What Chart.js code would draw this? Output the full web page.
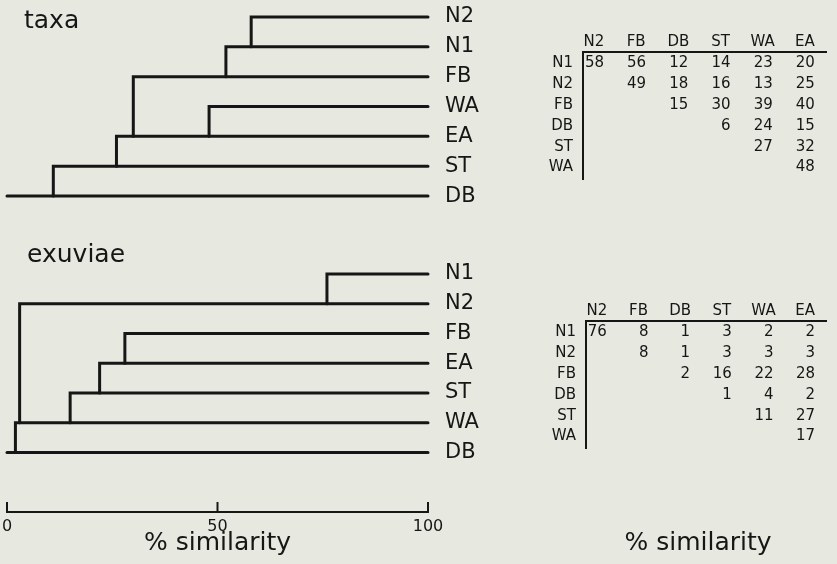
<!DOCTYPE html>
<html>
<head>
<meta charset="utf-8">
<script src="https://cdn.jsdelivr.net/npm/chart.js@4.4.0/dist/chart.umd.min.js"></script>
<style>
  body { margin: 0; width: 837px; height: 564px; background: #e7e8df; position: relative; overflow: hidden; }
  .caixa { position: absolute; }
</style>
</head>
<body>
<div class="caixa" style="left:0;top:-11px;width:488px;height:235px"><canvas id="dendroTaxa"></canvas></div>
<div class="caixa" style="left:0;top:240px;width:488px;height:324px"><canvas id="dendroExuv"></canvas></div>
<div class="caixa" style="left:520px;top:0;width:317px;height:189px"><canvas id="tabTaxa"></canvas></div>
<div class="caixa" style="left:520px;top:257px;width:317px;height:307px"><canvas id="tabExuv"></canvas></div>
<script>
// Dados - dendrograma taxa (folhas de cima para baixo)
var taxaFolhas = ["N2", "N1", "FB", "WA", "EA", "ST", "DB"];
var taxaUniao = [58, 52, 30, 48, 26, 11, 0]; // % similaridade onde o ramo se junta
var taxaDestino = ["N1", "FB", "EA", "EA", "ST", "DB", null];

// Dados - dendrograma exuviae
var exuvFolhas = ["N1", "N2", "FB", "EA", "ST", "WA", "DB"];
var exuvUniao = [76, 3, 28, 22, 15, 2, 0];
var exuvDestino = ["N2", "WA", "EA", "ST", "WA", "DB", null];

// Eixo de similaridade
var eixoTicks = [0, 50, 100];

// Matrizes de similaridade
var colunas = ["N2", "FB", "DB", "ST", "WA", "EA"];
var linhas = ["N1", "N2", "FB", "DB", "ST", "WA"];
var taxaMatriz = [
  [58, 56, 12, 14, 23, 20],
  [null, 49, 18, 16, 13, 25],
  [null, null, 15, 30, 39, 40],
  [null, null, null, 6, 24, 15],
  [null, null, null, null, 27, 32],
  [null, null, null, null, null, 48]
];
var exuvMatriz = [
  [76, 8, 1, 3, 2, 2],
  [null, 8, 1, 3, 3, 3],
  [null, null, 2, 16, 22, 28],
  [null, null, null, 1, 4, 2],
  [null, null, null, null, 11, 27],
  [null, null, null, null, null, 17]
];

var COR = "#161616";
var FONTE = "'DejaVu Sans', sans-serif";
Chart.defaults.font.family = FONTE;
Chart.defaults.color = COR;

// Texto solto (taxa, exuviae, % similarity)
var pluginTexto = {
  id: "texto",
  afterDraw: function (chart, args, opts) {
    if (!opts.texto) return;
    var c = chart.ctx;
    c.save();
    c.font = opts.tamanho + "px " + FONTE;
    c.fillStyle = COR;
    c.textAlign = opts.alinhar || "left";
    c.textBaseline = "middle";
    c.fillText(opts.texto, opts.x, opts.y);
    c.restore();
  }
};

// Marcas do eixo x viradas para cima
var pluginMarcas = {
  id: "marcas",
  afterDraw: function (chart) {
    var x = chart.scales.x;
    if (!x.options.display) return;
    var c = chart.ctx;
    c.save();
    c.strokeStyle = COR;
    c.lineWidth = 2;
    x.ticks.forEach(function (t) {
      var px = x.getPixelForValue(t.value);
      c.beginPath();
      c.moveTo(px, x.top + 1);
      c.lineTo(px, x.top - 10);
      c.stroke();
    });
    c.restore();
  }
};

// Valores das celulas da matriz
var pluginValores = {
  id: "valores",
  afterDatasetsDraw: function (chart) {
    var c = chart.ctx;
    var meta = chart.getDatasetMeta(0);
    var dados = chart.data.datasets[0].data;
    c.save();
    c.font = "15px " + FONTE;
    c.fillStyle = COR;
    c.textAlign = "right";
    c.textBaseline = "middle";
    for (var i = 0; i < meta.data.length; i++) {
      c.fillText(String(dados[i].v), meta.data[i].x + 10, meta.data[i].y);
    }
    c.restore();
  }
};

function montarRamos(folhas, uniao, destino) {
  var ramos = [];
  for (var i = 0; i < folhas.length; i++) {
    var pontos = [{ x: 100, y: i }, { x: uniao[i], y: i }];
    if (destino[i] !== null) {
      pontos.push({ x: uniao[i], y: folhas.indexOf(destino[i]) });
    }
    ramos.push({
      data: pontos,
      borderColor: COR,
      borderWidth: 3,
      pointRadius: 0,
      borderCapStyle: "round",
      borderJoinStyle: "miter",
      tension: 0,
      clip: false
    });
  }
  return ramos;
}

function montarCelulas(matriz) {
  var pontos = [];
  for (var i = 0; i < matriz.length; i++) {
    for (var j = 0; j < matriz[i].length; j++) {
      if (matriz[i][j] !== null) {
        pontos.push({ x: j, y: i, v: matriz[i][j] });
      }
    }
  }
  return pontos;
}

function renderDendro(id, folhas, uniao, destino, rotulo, comEixo) {
  var ctx = document.getElementById(id).getContext("2d");
  return new Chart(ctx, {
    type: "line",
    data: { datasets: montarRamos(folhas, uniao, destino) },
    options: {
      responsive: true,
      maintainAspectRatio: false,
      animation: false,
      layout: { padding: { left: 7, right: 0, top: comEixo ? 19 : 13, bottom: comEixo ? 0 : 13 } },
      plugins: { legend: { display: false }, tooltip: { enabled: false }, texto: rotulo },
      scales: {
        x: {
          type: "linear",
          min: 0,
          max: 100,
          display: comEixo,
          afterBuildTicks: function (axis) {
            axis.ticks = eixoTicks.map(function (v) { return { value: v }; });
          },
          afterFit: function (axis) { if (comEixo) axis.height = 52; },
          grid: { display: false, drawTicks: true, tickLength: 5 },
          border: { display: true, color: COR, width: 2 },
          ticks: { padding: 0, maxRotation: 0, autoSkip: false, font: { size: 16 }, color: COR },
          title: { display: true, text: "% similarity", font: { size: 25 }, color: COR, padding: { top: 0, bottom: 6 } }
        },
        y: {
          type: "linear",
          position: "right",
          reverse: true,
          min: -0.5,
          max: comEixo ? 8 : 6.5,
          afterBuildTicks: function (axis) {
            axis.ticks = folhas.map(function (f, i) { return { value: i }; });
          },
          afterFit: function (axis) { axis.width = 60; },
          grid: { display: false, drawTicks: true, tickLength: 17 },
          border: { display: false },
          ticks: {
            padding: 0,
            autoSkip: false,
            font: { size: 21 },
            color: COR,
            callback: function (v) { return folhas[v]; }
          }
        }
      }
    },
    plugins: [pluginTexto, pluginMarcas]
  });
}

function renderTabela(id, matriz, larguraRotulo, alturaCabecalho, baixo, legenda) {
  var ctx = document.getElementById(id).getContext("2d");
  return new Chart(ctx, {
    type: "scatter",
    data: { datasets: [{ data: montarCelulas(matriz), pointRadius: 0, pointHoverRadius: 0 }] },
    options: {
      responsive: true,
      maintainAspectRatio: false,
      animation: false,
      layout: { padding: { left: 0, right: 11, top: 0, bottom: baixo } },
      plugins: { legend: { display: false }, tooltip: { enabled: false }, texto: legenda },
      scales: {
        x: {
          type: "linear",
          position: "top",
          min: -0.26,
          max: 5.5,
          afterBuildTicks: function (axis) {
            axis.ticks = colunas.map(function (c, i) { return { value: i }; });
          },
          afterFit: function (axis) { axis.height = alturaCabecalho; },
          grid: { display: false, drawTicks: false },
          border: { display: true, color: COR, width: 2 },
          ticks: { padding: 1, maxRotation: 0, autoSkip: false, font: { size: 15 }, color: COR, callback: function (v) { return colunas[v]; } }
        },
        y: {
          type: "linear",
          reverse: true,
          min: -0.55,
          max: 5.55,
          afterBuildTicks: function (axis) {
            axis.ticks = linhas.map(function (l, i) { return { value: i }; });
          },
          afterFit: function (axis) { axis.width = larguraRotulo; },
          grid: { display: false, drawTicks: true, tickLength: 10 },
          border: { display: true, color: COR, width: 2 },
          ticks: { padding: 0, autoSkip: false, font: { size: 15 }, color: COR, callback: function (v) { return linhas[v]; } }
        }
      }
    },
    plugins: [pluginTexto, pluginValores]
  });
}

renderDendro("dendroTaxa", taxaFolhas, taxaUniao, taxaDestino, { texto: "taxa", tamanho: 25, x: 24, y: 32 }, false);
renderDendro("dendroExuv", exuvFolhas, exuvUniao, exuvDestino, { texto: "exuviae", tamanho: 25, x: 27, y: 15 }, true);
renderTabela("tabTaxa", taxaMatriz, 63, 52, 10, {});
renderTabela("tabExuv", exuvMatriz, 66, 64, 116, { texto: "% similarity", tamanho: 25, x: 178, y: 286, alinhar: "center" });
</script>
</body>
</html>
